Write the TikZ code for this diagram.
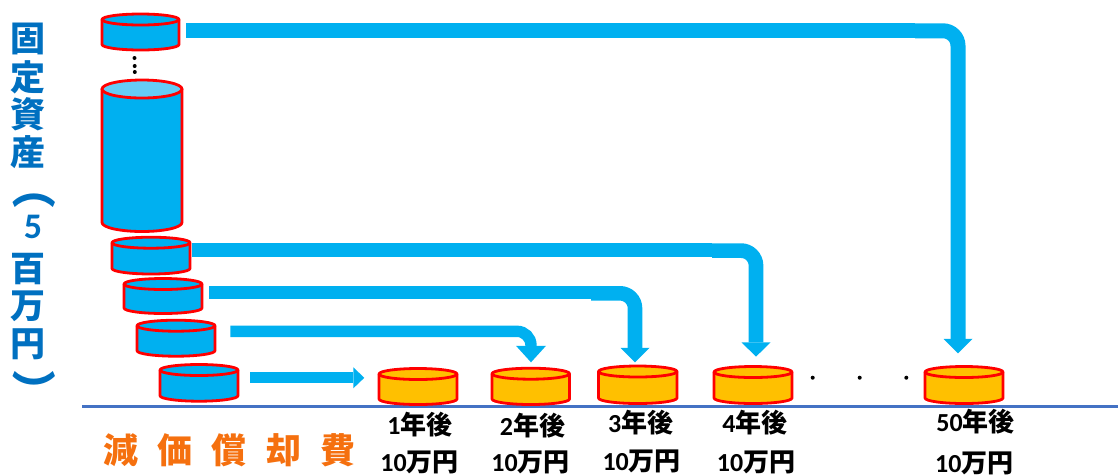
\documentclass[tikz,border=0pt]{standalone}
\usepackage{fontspec}
\usetikzlibrary{arrows.meta}
\setmainfont{Carlito}
\newfontfamily\cjk{Noto Sans CJK JP}
\definecolor{cylblue}{HTML}{00B0F0}
\definecolor{cyltop}{HTML}{66CCF5}
\definecolor{cylorange}{HTML}{FFC000}
\definecolor{baseblue}{HTML}{4472C4}
\definecolor{sidetext}{HTML}{0070C0}
\definecolor{costtext}{HTML}{F5700F}
\tikzset{
  cylline/.style={draw=red,line width=2.8pt,line join=round},
  flowbar/.style={draw=cylblue},
  headA/.style={-{Triangle[length=14.4pt,width=29pt,line width=0pt]}},
  headB/.style={-{Triangle[length=11pt,width=21pt,line width=0pt]}},
  lab/.style={font=\fontsize{26}{26}\selectfont\bfseries,text=black,inner sep=0pt},
  sidech/.style={font=\fontsize{35}{35}\selectfont\cjk\bfseries,text=sidetext,inner sep=0pt},
  sideparen/.style={font=\fontsize{44}{44}\selectfont\cjk\bfseries,text=sidetext,inner sep=0pt,rotate=-90},
  dotmark/.style={fill=black,circle,inner sep=0pt,minimum size=4pt},
}
% name, xleft, xright, y of top-ellipse centre, y of side bottom, fill, top fill
\newcommand{\cylshape}[7]{%
  \pgfmathsetmacro{\cxc}{(#2+#3)/2}%
  \pgfmathsetmacro{\crx}{(#3-#2)/2}%
  \pgfmathsetmacro{\cyc}{(#4+#5)/2}%
  \node[inner sep=0pt,minimum width=#3pt-#2pt,minimum height=#5pt-#4pt] (#1) at (\cxc,\cyc) {};
  \path[cylline,fill=#6] (#2,#4) -- (#2,#5) arc[start angle=180,end angle=360,x radius=\crx pt,y radius=5.5pt] -- (#3,#4) -- cycle;
  \path[cylline,fill=#7] (\cxc,#4) ellipse[x radius=\crx pt,y radius=5.5pt];
}
\newcommand{\yrlab}[6]{%
  \node[lab] (#1a) at (#3,#4) {#2{\cjk 年後}};
  \node[lab] (#1b) at (#5,#6) {10{\cjk 万円}};
}
\begin{document}
\begin{tikzpicture}[x=1pt,y=-1pt]
\useasboundingbox (0,0) rectangle (1118,475);
% base line
\coordinate (bl) at (82,406.7);
\coordinate (br) at (1118,406.7);
\draw[baseblue,line width=3.4pt] (bl) -- (br);
% asset cylinders
\cylshape{c0}{102}{179}{19.5}{44.5}{cylblue}{cylblue}
\path[cylline,fill=cylblue] (102,89) -- (102,222.5) arc[start angle=180,end angle=360,x radius=40pt,y radius=9pt] -- (182,89) -- cycle;
\path[cylline,fill=cyltop] (142,89) ellipse[x radius=40pt,y radius=9pt];
\node[inner sep=0pt,minimum width=80pt,minimum height=153pt] (tall) at (142,155.5) {};
\cylshape{c1}{112}{190}{242.7}{268.5}{cylblue}{cylblue}
\cylshape{c2}{124}{202}{284}{308}{cylblue}{cylblue}
\cylshape{c3}{137}{215}{325.7}{350.7}{cylblue}{cylblue}
\cylshape{c4}{160}{238}{370}{395.7}{cylblue}{cylblue}
% expense cylinders
\cylshape{o1}{379}{457}{374}{399}{cylorange}{cylorange}
\cylshape{o2}{492}{569.5}{373.7}{399}{cylorange}{cylorange}
\cylshape{o3}{598.5}{677}{371.5}{398}{cylorange}{cylorange}
\cylshape{o4}{714}{792}{372}{398}{cylorange}{cylorange}
\cylshape{o5}{925}{1003}{372}{398}{cylorange}{cylorange}
% arrow end points
\coordinate (a1s) at (186.3,30.6); \coordinate (a1m) at (915,30.6);
\coordinate (a1p) at (915,30.8);   \coordinate (a1c) at (958,30.8); \coordinate (a1e) at (958,353.3);
\coordinate (a2s) at (192.3,250); \coordinate (a2m) at (712,250);
\coordinate (a2p) at (712,250.6); \coordinate (a2c) at (756,250.6); \coordinate (a2e) at (756,356.7);
\coordinate (a3s) at (209.3,292.5); \coordinate (a3m) at (591,292.5);
\coordinate (a3p) at (591,293.3); \coordinate (a3c) at (635,293.3); \coordinate (a3e) at (635,362.3);
\coordinate (a4s) at (230.3,331.3); \coordinate (a4c) at (531,331.3); \coordinate (a4e) at (531,362.3);
\coordinate (a5s) at (250,377.8); \coordinate (a5e) at (364.3,377.8);
% arrows
\draw[flowbar,line width=14.6pt] (a1s) -- (a1m);
\draw[flowbar,line width=15pt,headA,rounded corners=15pt] (a1p) -- (a1c) -- (a1e);
\draw[flowbar,line width=13.4pt] (a2s) -- (a2m);
\draw[flowbar,line width=14.7pt,headA,rounded corners=15pt] (a2p) -- (a2c) -- (a2e);
\draw[flowbar,line width=13pt] (a3s) -- (a3m);
\draw[flowbar,line width=14.6pt,headA,rounded corners=15pt] (a3p) -- (a3c) -- (a3e);
\draw[flowbar,line width=11.4pt,rounded corners=14pt,-{Triangle[length=16.5pt,width=30pt,line width=0pt]}] (a4s) -- (a4c) -- (a4e);
\draw[flowbar,line width=11pt,headB] (a5s) -- (a5e);
% dots
\node[dotmark] (v1) at (134.5,58) {};
\node[dotmark] (v2) at (134.7,66) {};
\node[dotmark] (v3) at (134.8,72) {};
\node[dotmark] (h1) at (812.7,377.7) {};
\node[dotmark] (h2) at (859.7,377.7) {};
\node[dotmark] (h3) at (906.3,377.7) {};
% left vertical title
\node[sidech] (s1) at (28,39) {固};
\node[sidech] (s2) at (28,77) {定};
\node[sidech] (s3) at (28,114) {資};
\node[sidech] (s4) at (28,152) {産};
\node[sideparen] (s5) at (34,187.5) {（};
\node[font=\fontsize{36}{36}\selectfont\bfseries,text=sidetext,inner sep=0pt] (s6) at (33,227) {5};
\node[sidech] (s7) at (28,269) {百};
\node[sidech] (s8) at (28,306) {万};
\node[sidech] (s9) at (28,344) {円};
\node[sideparen] (s10) at (34,391) {）};
% bottom title
\node[font=\fontsize{35}{35}\selectfont\cjk\bfseries,text=costtext,inner sep=0pt] (cost) at (229.5,450) {減\hspace{19.5pt}価\hspace{19.5pt}償\hspace{19.5pt}却\hspace{19.5pt}費};
% labels
\yrlab{l1}{1}{420}{425}{419.5}{462}
\yrlab{l2}{2}{532.5}{426}{530.5}{462}
\yrlab{l3}{3}{640.8}{423}{641.7}{461}
\yrlab{l4}{4}{755}{422.7}{756}{462}
\yrlab{l5}{50}{975.5}{422}{974.3}{463}
\end{tikzpicture}
\end{document}
